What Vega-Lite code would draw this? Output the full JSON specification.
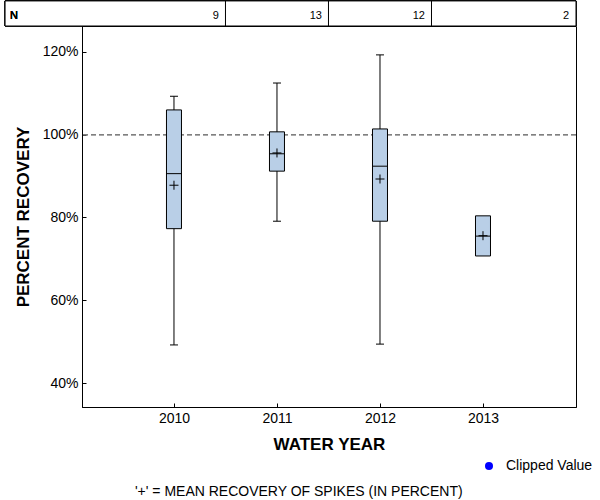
{
  "$schema": "https://vega.github.io/schema/vega-lite/v6.json",
  "width": 494,
  "height": 381,
  "padding": {"left": 4, "top": 0, "right": 4, "bottom": 0},
  "config": {
    "font": "Liberation Sans",
    "view": {"stroke": "black", "strokeWidth": 1},
    "scale": {"continuousPadding": 0},
    "axis": {
      "grid": false,
      "domainColor": "black",
      "tickColor": "black",
      "labelColor": "black",
      "titleColor": "black",
      "labelFont": "Liberation Sans",
      "labelFontSize": 14,
      "titleFont": "Liberation Sans",
      "titleFontSize": 17,
      "titleFontWeight": "bold",
      "tickSize": -4
    },
    "title": {"color": "black", "font": "Liberation Sans"}
  },
  "title": {
    "text": "'+' = MEAN RECOVERY OF SPIKES (IN PERCENT)",
    "orient": "bottom",
    "anchor": "middle",
    "frame": "bounds",
    "fontSize": 14,
    "fontWeight": "normal",
    "offset": 12
  },
  "datasets": {
    "box": [
      {"year": 2010, "n": 9, "lo": 49.2, "q1": 77.3, "median": 90.6, "mean": 87.8, "q3": 106.0, "hi": 109.3},
      {"year": 2011, "n": 13, "lo": 79.1, "q1": 91.2, "median": 95.4, "mean": 95.6, "q3": 100.7, "hi": 112.5},
      {"year": 2012, "n": 12, "lo": 49.4, "q1": 79.1, "median": 92.4, "mean": 89.3, "q3": 101.4, "hi": 119.3},
      {"year": 2013, "n": 2, "lo": null, "q1": 70.7, "median": 75.5, "mean": 75.6, "q3": 80.4, "hi": null}
    ]
  },
  "data": {"name": "box"},
  "layer": [
    {
      "mark": {"type": "rect", "fill": "white", "stroke": "black", "strokeWidth": 1},
      "encoding": {
        "x": {"datum": 2008.36, "type": "quantitative", "scale": {"domain": [2009.107, 2013.903], "nice": false, "zero": false, "padding": 0}},
        "x2": {"datum": 2013.903},
        "y": {"datum": 126.28, "type": "quantitative", "scale": {"domain": [34.2, 126.28], "nice": false, "zero": false, "padding": 0}},
        "y2": {"datum": 132.34}
      }
    },
    {
      "transform": [{"filter": "datum.year < 2013"}],
      "mark": {"type": "rule", "xOffset": 51.5, "color": "black", "strokeWidth": 1},
      "encoding": {
        "x": {"field": "year", "type": "quantitative", "scale": {"domain": [2009.107, 2013.903], "nice": false, "zero": false, "padding": 0}},
        "y": {"datum": 126.28, "type": "quantitative", "scale": {"domain": [34.2, 126.28], "nice": false, "zero": false, "padding": 0}},
        "y2": {"datum": 132.34}
      }
    },
    {
      "mark": {"type": "text", "align": "left", "baseline": "middle", "dx": 5, "fontSize": 11, "fontWeight": "normal", "color": "black"},
      "encoding": {
        "x": {"datum": 2008.36, "type": "quantitative", "scale": {"domain": [2009.107, 2013.903], "nice": false, "zero": false, "padding": 0}},
        "y": {"datum": 128.8, "type": "quantitative", "scale": {"domain": [34.2, 126.28], "nice": false, "zero": false, "padding": 0}},
        "text": {"value": "N"}
      }
    },
    {
      "transform": [{"filter": "datum.year < 2013"}],
      "mark": {"type": "text", "align": "right", "baseline": "middle", "dx": 45, "fontSize": 11, "fontWeight": "normal", "color": "black"},
      "encoding": {
        "x": {"field": "year", "type": "quantitative", "scale": {"domain": [2009.107, 2013.903], "nice": false, "zero": false, "padding": 0}},
        "y": {"datum": 128.8, "type": "quantitative", "scale": {"domain": [34.2, 126.28], "nice": false, "zero": false, "padding": 0}},
        "text": {"field": "n", "type": "quantitative"}
      }
    },
    {
      "transform": [{"filter": "datum.year == 2013"}],
      "mark": {"type": "text", "align": "right", "baseline": "middle", "dx": -7, "fontSize": 11, "fontWeight": "normal", "color": "black"},
      "encoding": {
        "x": {"value": "width"},
        "y": {"datum": 128.8, "type": "quantitative", "scale": {"domain": [34.2, 126.28], "nice": false, "zero": false, "padding": 0}},
        "text": {"field": "n", "type": "quantitative"}
      }
    },
    {
      "mark": {"type": "rule", "color": "#808080", "strokeDash": [5, 3], "strokeWidth": 1},
      "encoding": {
        "y": {"datum": 100, "type": "quantitative", "scale": {"domain": [34.2, 126.28], "nice": false, "zero": false, "padding": 0}}
      }
    },
    {
      "mark": {"type": "rule", "color": "black", "strokeWidth": 1},
      "encoding": {
        "x": {"field": "year", "type": "quantitative", "scale": {"domain": [2009.107, 2013.903], "nice": false, "zero": false, "padding": 0}},
        "y": {"field": "lo", "type": "quantitative", "scale": {"domain": [34.2, 126.28], "nice": false, "zero": false, "padding": 0}},
        "y2": {"field": "hi"}
      }
    },
    {
      "mark": {"type": "tick", "orient": "horizontal", "size": 8, "thickness": 1, "color": "black", "opacity": 1},
      "encoding": {
        "x": {"field": "year", "type": "quantitative", "scale": {"domain": [2009.107, 2013.903], "nice": false, "zero": false, "padding": 0}},
        "y": {"field": "lo", "type": "quantitative", "scale": {"domain": [34.2, 126.28], "nice": false, "zero": false, "padding": 0}}
      }
    },
    {
      "mark": {"type": "tick", "orient": "horizontal", "size": 8, "thickness": 1, "color": "black", "opacity": 1},
      "encoding": {
        "x": {"field": "year", "type": "quantitative", "scale": {"domain": [2009.107, 2013.903], "nice": false, "zero": false, "padding": 0}},
        "y": {"field": "hi", "type": "quantitative", "scale": {"domain": [34.2, 126.28], "nice": false, "zero": false, "padding": 0}}
      }
    },
    {
      "mark": {"type": "bar", "size": 15, "fill": "#B9CFE7", "stroke": "black", "strokeWidth": 1},
      "encoding": {
        "x": {
          "field": "year",
          "type": "quantitative",
          "scale": {"domain": [2009.107, 2013.903], "nice": false, "zero": false, "padding": 0},
          "axis": {"values": [2010, 2011, 2012, 2013], "format": "d", "title": "WATER YEAR", "labelPadding": 8, "titlePadding": 11}
        },
        "y": {
          "field": "q1",
          "type": "quantitative",
          "scale": {"domain": [34.2, 126.28], "nice": false, "zero": false, "padding": 0},
          "axis": {"values": [40, 60, 80, 100, 120], "labelExpr": "datum.value + '%'", "title": "PERCENT RECOVERY", "labelPadding": 8, "titlePadding": 10}
        },
        "y2": {"field": "q3"}
      }
    },
    {
      "mark": {"type": "tick", "orient": "horizontal", "size": 15, "thickness": 1, "color": "black", "opacity": 1},
      "encoding": {
        "x": {"field": "year", "type": "quantitative", "scale": {"domain": [2009.107, 2013.903], "nice": false, "zero": false, "padding": 0}},
        "y": {"field": "median", "type": "quantitative", "scale": {"domain": [34.2, 126.28], "nice": false, "zero": false, "padding": 0}}
      }
    },
    {
      "mark": {"type": "point", "shape": "M-1,0L1,0M0,-1L0,1", "size": 81, "filled": false, "stroke": "black", "strokeWidth": 1, "opacity": 1},
      "encoding": {
        "x": {"field": "year", "type": "quantitative", "scale": {"domain": [2009.107, 2013.903], "nice": false, "zero": false, "padding": 0}},
        "y": {"field": "mean", "type": "quantitative", "scale": {"domain": [34.2, 126.28], "nice": false, "zero": false, "padding": 0}}
      }
    },
    {
      "data": {"values": []},
      "mark": {"type": "point", "filled": true, "opacity": 1},
      "encoding": {
        "x": {"field": "year", "type": "quantitative", "scale": {"domain": [2009.107, 2013.903], "nice": false, "zero": false, "padding": 0}},
        "y": {"field": "mean", "type": "quantitative", "scale": {"domain": [34.2, 126.28], "nice": false, "zero": false, "padding": 0}},
        "color": {
          "datum": "Clipped Value",
          "type": "nominal",
          "scale": {"range": ["#0000FF"]},
          "legend": {
            "orient": "none",
            "legendX": 400,
            "legendY": 433,
            "title": null,
            "symbolType": "circle",
            "symbolSize": 64,
            "labelFontSize": 14,
            "labelFont": "Liberation Sans",
            "labelColor": "black",
            "labelOffset": 10,
            "padding": 0
          }
        }
      }
    }
  ]
}
